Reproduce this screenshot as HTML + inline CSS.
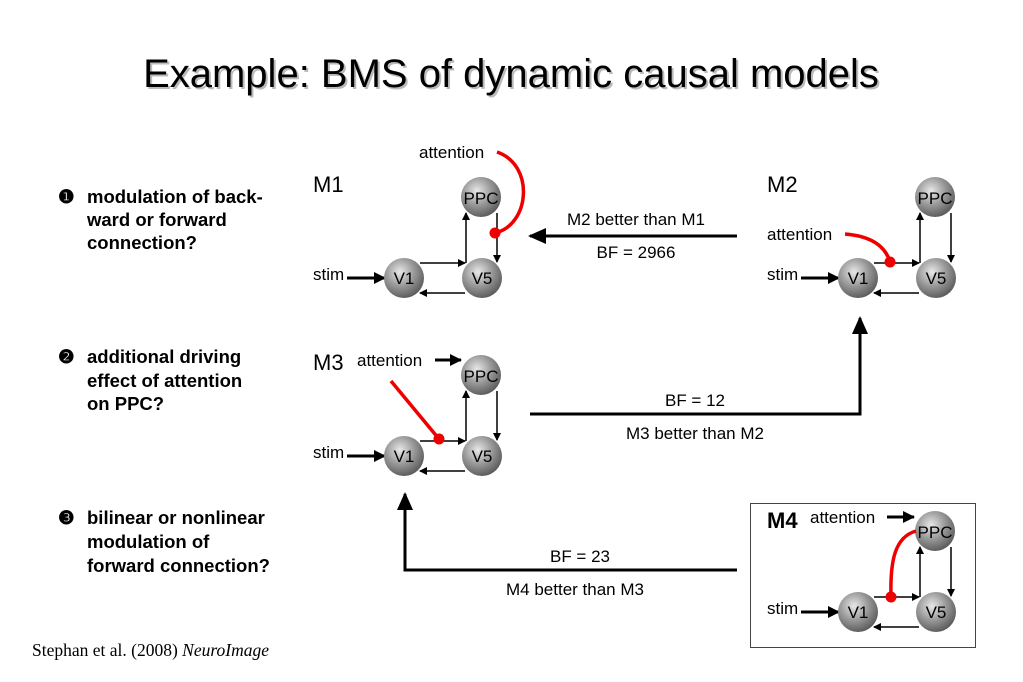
<!DOCTYPE html>
<html><head><meta charset="utf-8"><style>
body{margin:0;background:#fff;}
svg{display:block;font-family:"Liberation Sans",Arial,sans-serif;}
</style></head><body>
<svg width="1023" height="682" viewBox="0 0 1023 682" xmlns="http://www.w3.org/2000/svg">
<defs>
<radialGradient id="sph" cx="0.4" cy="0.35" r="0.7">
<stop offset="0" stop-color="#e8e8e8"/><stop offset="0.5" stop-color="#9a9a9a"/><stop offset="1" stop-color="#555"/>
</radialGradient>
<marker id="a" markerWidth="8" markerHeight="8" refX="7" refY="4" orient="auto" markerUnits="userSpaceOnUse"><path d="M0,0 L8,4 L0,8z" fill="#000"/></marker>
<marker id="b" markerWidth="12" markerHeight="12" refX="11" refY="6" orient="auto" markerUnits="userSpaceOnUse"><path d="M0,0 L12,6 L0,12z" fill="#000"/></marker>
<marker id="c" markerWidth="18" markerHeight="16" refX="16" refY="8" orient="auto" markerUnits="userSpaceOnUse"><path d="M0,0 L18,8 L0,16z" fill="#000"/></marker>
<g id="net">
<line x1="420" y1="263" x2="465" y2="263" stroke="#000" stroke-width="1.5" marker-end="url(#a)"/>
<line x1="465" y1="293" x2="420" y2="293" stroke="#000" stroke-width="1.5" marker-end="url(#a)"/>
<line x1="466" y1="263" x2="466" y2="213" stroke="#000" stroke-width="1.5" marker-end="url(#a)"/>
<line x1="497" y1="213" x2="497" y2="262" stroke="#000" stroke-width="1.5" marker-end="url(#a)"/>
<line x1="347" y1="278" x2="385" y2="278" stroke="#000" stroke-width="3" marker-end="url(#b)"/>
<circle cx="404" cy="278" r="20" fill="url(#sph)"/>
<circle cx="482" cy="278" r="20" fill="url(#sph)"/>
<circle cx="481" cy="197" r="20" fill="url(#sph)"/>
<text x="404" y="284" font-size="17" text-anchor="middle">V1</text>
<text x="482" y="284" font-size="17" text-anchor="middle">V5</text>
<text x="481" y="204" font-size="17" text-anchor="middle">PPC</text>
<text x="313" y="280" font-size="17">stim</text>
</g>
</defs>
<text x="511" y="87" font-size="40" text-anchor="middle" fill="#bbb" transform="translate(2,2)">Example: BMS of dynamic causal models</text>
<text x="511" y="87" font-size="40" text-anchor="middle">Example: BMS of dynamic causal models</text>

<g font-size="18.5" font-weight="bold">
<text x="58" y="203">❶</text><text x="87" y="203">modulation of back-</text><text x="87" y="226">ward or forward</text><text x="87" y="249">connection?</text>
<text x="58" y="363">❷</text><text x="87" y="363">additional driving</text><text x="87" y="387">effect of attention</text><text x="87" y="410">on PPC?</text>
<text x="58" y="524">❸</text><text x="87" y="524">bilinear or nonlinear</text><text x="87" y="548">modulation of</text><text x="87" y="572">forward connection?</text>
</g>
<text x="32" y="656" font-size="17.5" font-family="Liberation Serif,serif">Stephan et al. (2008) <tspan font-style="italic">NeuroImage</tspan></text>

<!-- M1 -->
<use href="#net"/>
<text x="313" y="192" font-size="22">M1</text>
<text x="419" y="158" font-size="17">attention</text>
<path d="M497,152 C535,165 530,225 495,233" fill="none" stroke="#e00" stroke-width="3.5"/>
<circle cx="495" cy="233" r="5.5" fill="#e00"/>

<!-- M2 -->
<use href="#net" transform="translate(454,0)"/>
<text x="767" y="192" font-size="22">M2</text>
<text x="767" y="240" font-size="17">attention</text>
<path d="M845,234 C870,236 885,245 890,262" fill="none" stroke="#e00" stroke-width="3.5"/>
<circle cx="890" cy="262" r="5.5" fill="#e00"/>

<!-- M3 -->
<use href="#net" transform="translate(0,178)"/>
<text x="313" y="370" font-size="22">M3</text>
<text x="357" y="366" font-size="17">attention</text>
<line x1="435" y1="360" x2="461" y2="360" stroke="#000" stroke-width="3" marker-end="url(#b)"/>
<line x1="391" y1="381" x2="439" y2="439" stroke="#e00" stroke-width="3.5"/>
<circle cx="439" cy="439" r="5.5" fill="#e00"/>

<!-- M4 -->
<rect x="750.5" y="503.5" width="225" height="144" fill="none" stroke="#444" stroke-width="1"/>
<use href="#net" transform="translate(454,334)"/>
<text x="767" y="528" font-size="22" font-weight="bold">M4</text>
<text x="810" y="523" font-size="17">attention</text>
<line x1="887" y1="517" x2="914" y2="517" stroke="#000" stroke-width="3" marker-end="url(#b)"/>
<path d="M891,597 C890,560 895,537 916,531" fill="none" stroke="#e00" stroke-width="3.5"/>
<circle cx="891" cy="597" r="5.5" fill="#e00"/>

<!-- big arrows -->
<line x1="737" y1="236" x2="530" y2="236" stroke="#000" stroke-width="3" marker-end="url(#c)"/>
<text x="636" y="225" font-size="17" text-anchor="middle">M2 better than M1</text>
<text x="636" y="258" font-size="17" text-anchor="middle">BF = 2966</text>

<polyline points="530,414 860,414 860,318" fill="none" stroke="#000" stroke-width="3" marker-end="url(#c)"/>
<text x="695" y="406" font-size="17" text-anchor="middle">BF = 12</text>
<text x="695" y="439" font-size="17" text-anchor="middle">M3 better than M2</text>

<polyline points="737,570 405,570 405,494" fill="none" stroke="#000" stroke-width="3" marker-end="url(#c)"/>
<text x="580" y="562" font-size="17" text-anchor="middle">BF = 23</text>
<text x="575" y="595" font-size="17" text-anchor="middle">M4 better than M3</text>
</svg>
</body></html>
